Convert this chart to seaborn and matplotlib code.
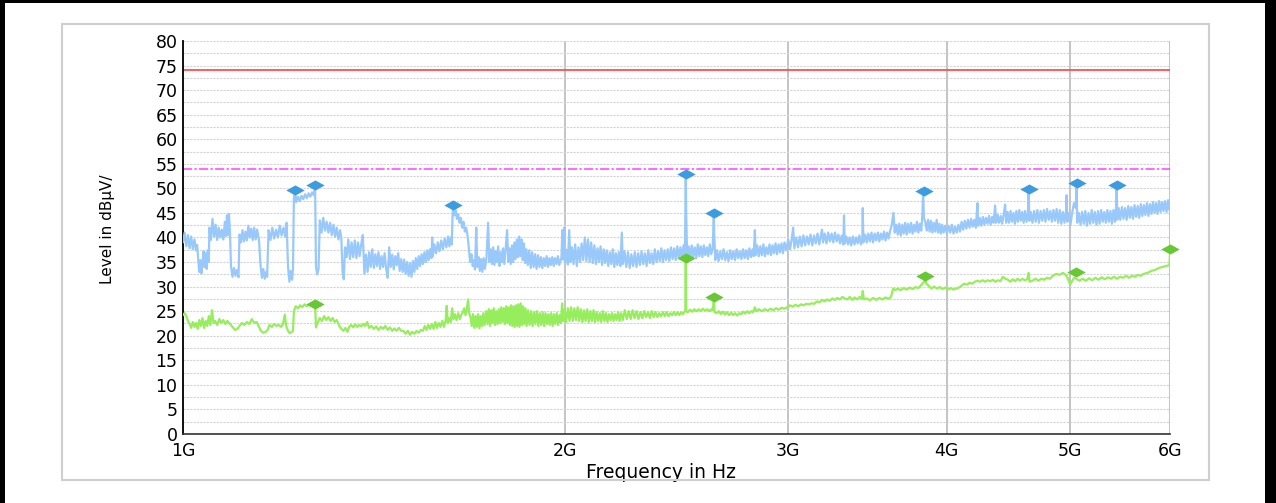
import numpy as np
import matplotlib.pyplot as plt
import seaborn as sns
from matplotlib.patches import Rectangle
from matplotlib.ticker import FixedLocator, MultipleLocator, NullLocator

# ─── Data (MHz, dBuV) ────────────────────────────────────────
# peak detector trace
peak_scan = [
    (1000, 39.0), (1003, 41.0), (1006, 38.2), (1009, 40.5), (1012, 37.8), (1015, 40.2), (1018, 37.6), (1021, 39.6),
    (1024, 37.4), (1026, 38.5), (1028, 35.5), (1030, 33.0), (1032, 35.4), (1034, 32.7), (1036, 34.5), (1038, 37.2),
    (1040, 34.0), (1042, 36.8), (1044, 33.6), (1046, 37.4), (1048, 35.0), (1049, 42.0), (1052, 39.5), (1055, 43.8),
    (1058, 40.2), (1061, 42.6), (1064, 39.5), (1067, 42.0), (1070, 40.0), (1073, 41.6), (1076, 39.6), (1079, 43.2),
    (1081, 40.3), (1083, 44.5), (1085, 40.5), (1087, 44.8), (1089, 41.2), (1091, 34.2), (1094, 32.0), (1097, 33.8),
    (1100, 32.2), (1103, 33.4), (1106, 31.9), (1108, 40.6), (1111, 39.0), (1114, 41.5), (1117, 39.2), (1120, 41.2),
    (1123, 39.4), (1126, 42.4), (1129, 40.0), (1132, 41.8), (1135, 39.5), (1138, 42.0), (1141, 39.6), (1144, 41.6),
    (1148, 39.4), (1151, 34.5), (1154, 31.8), (1157, 33.6), (1160, 31.6), (1163, 33.0), (1165, 32.0), (1168, 41.5),
    (1172, 39.5), (1176, 42.0), (1180, 39.8), (1184, 41.6), (1188, 40.0), (1192, 42.4), (1196, 40.4), (1200, 42.0),
    (1204, 40.2), (1207, 43.0), (1210, 34.2), (1213, 31.0), (1216, 33.2), (1219, 31.4), (1221, 33.5), (1223, 48.0),
    (1225, 49.6), (1228, 47.2), (1232, 48.3), (1236, 47.4), (1240, 48.5), (1244, 47.8), (1248, 48.8), (1252, 48.0),
    (1256, 49.0), (1260, 48.3), (1264, 49.2), (1268, 48.6), (1271, 50.7), (1273, 34.0), (1276, 32.5), (1279, 33.6),
    (1282, 43.5), (1286, 41.0), (1290, 44.0), (1294, 41.4), (1298, 43.2), (1302, 41.0), (1306, 43.0), (1310, 40.5),
    (1314, 42.6), (1318, 40.2), (1322, 42.0), (1326, 39.6), (1330, 41.5), (1333, 39.8), (1336, 33.0), (1339, 31.5),
    (1342, 38.0), (1346, 36.0), (1350, 39.6), (1354, 35.6), (1358, 39.0), (1362, 36.0), (1366, 39.4), (1370, 35.8),
    (1374, 39.0), (1378, 36.2), (1382, 38.6), (1386, 40.5), (1390, 32.6), (1394, 36.5), (1398, 33.0), (1402, 37.0),
    (1406, 34.0), (1410, 37.6), (1414, 33.8), (1418, 36.6), (1422, 34.2), (1426, 37.0), (1430, 33.6), (1434, 36.2),
    (1438, 34.0), (1442, 36.8), (1446, 33.6), (1450, 31.8), (1454, 38.0), (1458, 34.0), (1462, 36.5), (1466, 33.5),
    (1470, 36.2), (1474, 34.4), (1478, 36.8), (1482, 33.2), (1486, 35.6), (1490, 33.0), (1494, 35.5), (1498, 32.6),
    (1502, 35.0), (1506, 32.2), (1510, 34.8), (1514, 32.0), (1518, 35.2), (1522, 33.0), (1526, 35.8), (1530, 33.6),
    (1534, 36.2), (1538, 34.2), (1542, 36.6), (1546, 34.6), (1550, 37.0), (1554, 35.0), (1558, 37.4), (1562, 35.4),
    (1566, 37.6), (1570, 35.8), (1572, 40.0), (1574, 36.2), (1578, 38.6), (1583, 36.8), (1588, 39.0), (1593, 37.2),
    (1598, 39.4), (1603, 37.6), (1608, 39.8), (1613, 38.0), (1618, 40.2), (1622, 38.2), (1626, 40.0), (1629, 38.6),
    (1631, 44.0), (1633, 46.7), (1636, 44.5), (1640, 45.6), (1644, 43.8), (1648, 44.8), (1652, 43.0), (1656, 44.0),
    (1660, 42.0), (1664, 43.2), (1668, 41.2), (1672, 42.0), (1676, 40.5), (1680, 38.0), (1684, 35.0), (1688, 36.6),
    (1692, 34.2), (1696, 35.4), (1699, 33.5), (1703, 42.0), (1706, 34.0), (1710, 36.0), (1714, 33.2), (1718, 35.6),
    (1722, 33.0), (1726, 35.8), (1730, 33.6), (1735, 36.0), (1740, 43.0), (1744, 35.0), (1748, 37.6), (1752, 34.6),
    (1756, 38.0), (1760, 34.4), (1764, 37.2), (1768, 35.0), (1772, 38.2), (1776, 34.2), (1780, 37.0), (1784, 35.0),
    (1788, 37.8), (1792, 34.6), (1796, 37.4), (1801, 41.5), (1805, 35.0), (1809, 37.8), (1813, 34.6), (1817, 38.4),
    (1821, 35.0), (1825, 39.0), (1829, 35.6), (1833, 39.6), (1837, 36.0), (1841, 40.2), (1845, 36.2), (1849, 39.6),
    (1853, 35.4), (1857, 38.8), (1861, 34.8), (1865, 37.6), (1870, 34.4), (1875, 37.4), (1880, 33.8), (1885, 37.0),
    (1890, 34.0), (1895, 36.6), (1900, 33.6), (1905, 36.4), (1910, 34.0), (1915, 36.0), (1920, 33.8), (1925, 35.8),
    (1930, 34.2), (1935, 36.2), (1940, 34.0), (1945, 35.8), (1950, 34.4), (1955, 36.0), (1960, 34.2), (1965, 35.8),
    (1970, 34.6), (1975, 36.2), (1980, 34.4), (1988, 36.0), (1991, 41.5), (1994, 35.5), (1998, 42.0), (2001, 35.0),
    (2006, 37.5), (2011, 34.5), (2016, 41.5), (2020, 35.0), (2026, 38.0), (2032, 34.6), (2038, 38.6), (2044, 34.2),
    (2050, 38.0), (2056, 35.0), (2062, 38.8), (2068, 35.4), (2074, 40.0), (2080, 35.2), (2086, 39.6), (2092, 35.0),
    (2098, 39.0), (2104, 34.8), (2110, 38.4), (2116, 34.6), (2122, 37.8), (2128, 35.0), (2134, 38.2), (2140, 34.4),
    (2146, 37.6), (2152, 34.8), (2158, 37.4), (2164, 34.2), (2170, 37.0), (2176, 34.6), (2182, 37.6), (2188, 34.0),
    (2194, 36.8), (2200, 34.4), (2206, 37.0), (2212, 34.2), (2218, 41.0), (2222, 34.6), (2229, 37.2), (2236, 34.0),
    (2243, 37.0), (2250, 33.8), (2257, 36.6), (2264, 34.2), (2271, 37.0), (2278, 34.0), (2285, 36.8), (2292, 34.4),
    (2299, 37.2), (2306, 34.6), (2313, 36.8), (2320, 34.2), (2327, 37.4), (2334, 34.8), (2341, 36.8), (2348, 34.6),
    (2355, 37.6), (2362, 35.0), (2369, 37.2), (2376, 35.2), (2383, 37.8), (2390, 35.0), (2397, 37.4), (2404, 35.4),
    (2411, 37.6), (2418, 35.2), (2425, 38.0), (2432, 35.6), (2439, 37.8), (2446, 35.4), (2453, 38.2), (2460, 35.8),
    (2467, 38.0), (2474, 35.6), (2481, 38.4), (2487, 35.8), (2489, 45.0), (2491, 52.9), (2493, 45.0), (2497, 36.4),
    (2504, 38.2), (2511, 35.8), (2518, 38.4), (2525, 36.0), (2532, 38.0), (2539, 35.8), (2546, 38.6), (2553, 36.2),
    (2560, 38.2), (2567, 36.0), (2574, 38.4), (2581, 36.4), (2588, 38.0), (2595, 36.2), (2602, 38.6), (2609, 36.6),
    (2616, 37.8), (2619, 42.0), (2621, 44.9), (2623, 41.0), (2628, 35.4), (2636, 37.4), (2644, 35.2), (2652, 37.2),
    (2660, 35.6), (2668, 37.6), (2676, 35.4), (2684, 37.0), (2692, 35.2), (2700, 37.4), (2708, 35.6), (2716, 37.2),
    (2724, 35.4), (2732, 37.6), (2740, 35.8), (2748, 37.2), (2756, 35.6), (2764, 37.6), (2772, 35.8), (2780, 37.4),
    (2788, 35.6), (2796, 37.8), (2804, 36.0), (2812, 37.6), (2818, 36.2), (2824, 41.5), (2828, 36.4), (2836, 38.4),
    (2844, 36.2), (2852, 38.2), (2860, 36.4), (2868, 38.6), (2876, 36.2), (2884, 38.0), (2892, 36.6), (2900, 38.6),
    (2908, 36.4), (2916, 38.4), (2924, 36.8), (2932, 38.8), (2940, 36.6), (2948, 38.6), (2956, 37.0), (2964, 38.8),
    (2972, 36.8), (2980, 39.0), (2990, 37.4), (3000, 39.6), (3010, 37.6), (3020, 39.8), (3027, 42.0), (3034, 37.8),
    (3044, 40.0), (3054, 38.0), (3064, 40.2), (3074, 38.2), (3084, 40.4), (3094, 38.4), (3104, 40.2), (3114, 38.6),
    (3124, 40.6), (3134, 38.4), (3144, 40.4), (3154, 38.8), (3164, 40.8), (3174, 38.6), (3184, 40.6), (3190, 41.6),
    (3196, 39.0), (3206, 40.8), (3216, 38.8), (3226, 41.0), (3236, 39.2), (3246, 40.8), (3256, 39.0), (3266, 41.0),
    (3276, 39.2), (3286, 40.6), (3296, 38.8), (3306, 40.4), (3316, 38.6), (3320, 44.5), (3324, 38.8), (3334, 40.2),
    (3344, 38.6), (3354, 40.0), (3364, 38.4), (3374, 40.2), (3384, 38.6), (3394, 40.0), (3404, 38.8), (3414, 40.4),
    (3424, 38.6), (3432, 39.8), (3435, 46.0), (3439, 39.0), (3450, 40.6), (3460, 39.0), (3470, 40.8), (3480, 39.2),
    (3490, 41.0), (3500, 39.0), (3510, 40.8), (3520, 39.4), (3530, 41.0), (3540, 39.2), (3550, 40.8), (3560, 39.6),
    (3570, 41.2), (3580, 39.4), (3590, 41.0), (3600, 39.8), (3610, 41.4), (3620, 42.5), (3632, 45.0), (3640, 41.0),
    (3650, 42.6), (3660, 40.6), (3670, 42.8), (3680, 40.4), (3690, 42.6), (3700, 40.8), (3710, 43.0), (3720, 40.6),
    (3730, 42.8), (3740, 41.0), (3750, 43.0), (3760, 40.8), (3770, 42.6), (3780, 41.2), (3790, 43.2), (3800, 41.0),
    (3810, 42.8), (3820, 41.4), (3828, 45.0), (3833, 49.5), (3838, 44.0), (3848, 43.2), (3858, 41.4), (3868, 43.6),
    (3878, 41.2), (3888, 43.4), (3898, 41.0), (3908, 43.0), (3918, 41.2), (3928, 43.6), (3938, 41.0), (3948, 42.8),
    (3958, 40.8), (3968, 42.6), (3978, 41.0), (3990, 42.4), (4002, 40.8), (4014, 42.4), (4026, 41.0), (4038, 42.6),
    (4050, 40.8), (4062, 42.2), (4074, 41.0), (4086, 42.6), (4098, 41.2), (4110, 43.2), (4122, 41.6), (4134, 43.4),
    (4146, 41.8), (4158, 43.6), (4170, 42.0), (4182, 43.8), (4194, 42.2), (4206, 43.6), (4218, 42.0), (4230, 47.0),
    (4236, 42.4), (4248, 44.0), (4260, 42.4), (4272, 44.2), (4284, 42.6), (4296, 44.0), (4308, 42.8), (4320, 44.4),
    (4332, 42.6), (4344, 44.2), (4356, 43.0), (4368, 46.5), (4376, 43.0), (4388, 44.6), (4400, 43.0), (4412, 44.4),
    (4424, 42.8), (4436, 44.6), (4448, 46.7), (4456, 43.0), (4468, 45.2), (4480, 43.0), (4492, 45.4), (4504, 43.2),
    (4516, 45.0), (4528, 42.8), (4540, 45.4), (4552, 43.2), (4564, 45.6), (4576, 43.4), (4588, 45.2), (4600, 43.0),
    (4612, 45.4), (4624, 43.2), (4636, 45.0), (4642, 49.8), (4648, 43.4), (4660, 45.2), (4674, 43.0), (4688, 45.4),
    (4702, 43.2), (4716, 45.6), (4730, 43.0), (4744, 45.4), (4758, 43.4), (4772, 45.6), (4786, 43.2), (4800, 45.8),
    (4814, 43.6), (4828, 45.4), (4842, 43.2), (4856, 45.6), (4870, 43.4), (4884, 45.8), (4898, 43.0), (4912, 45.6),
    (4926, 42.8), (4940, 45.2), (4954, 43.0), (4968, 45.4), (4973, 48.6), (4980, 43.2), (4994, 45.0), (5008, 42.6),
    (5022, 44.8), (5040, 47.0), (5058, 46.0), (5064, 51.1), (5070, 43.0), (5085, 45.0), (5100, 42.6), (5115, 45.2),
    (5130, 42.8), (5145, 45.4), (5160, 42.4), (5175, 45.0), (5190, 42.8), (5205, 45.6), (5220, 43.0), (5235, 45.2),
    (5250, 42.6), (5265, 45.4), (5280, 42.8), (5295, 45.6), (5310, 43.2), (5325, 45.2), (5340, 43.0), (5355, 45.6),
    (5370, 43.2), (5385, 45.4), (5400, 42.8), (5415, 45.6), (5430, 43.2), (5440, 46.0), (5446, 50.6), (5452, 43.6),
    (5466, 46.0), (5482, 43.6), (5498, 46.2), (5514, 43.8), (5530, 46.0), (5546, 43.6), (5562, 46.4), (5578, 44.0),
    (5594, 46.2), (5610, 43.8), (5626, 46.6), (5642, 44.2), (5658, 46.4), (5674, 44.0), (5690, 46.8), (5706, 44.4),
    (5722, 46.6), (5738, 44.6), (5754, 47.0), (5770, 44.4), (5786, 46.8), (5802, 44.8), (5818, 47.2), (5834, 45.0),
    (5850, 47.0), (5866, 44.8), (5882, 47.4), (5898, 45.2), (5914, 47.2), (5930, 45.4), (5946, 47.4), (5962, 45.2),
    (5978, 47.6), (5994, 45.6), (6000, 46.0),
]

# average detector trace
avg_scan = [
    (1000, 24.2), (1003, 24.6), (1006, 24.0), (1009, 23.0), (1012, 22.4), (1015, 21.6), (1018, 22.8), (1021, 21.8),
    (1024, 22.6), (1027, 21.4), (1030, 23.2), (1033, 22.0), (1036, 23.6), (1039, 21.6), (1042, 23.0), (1045, 22.0),
    (1048, 24.0), (1051, 22.2), (1054, 25.2), (1057, 22.6), (1060, 23.0), (1064, 22.2), (1068, 23.4), (1072, 22.6),
    (1076, 23.2), (1080, 22.4), (1084, 23.0), (1089, 22.4), (1094, 21.8), (1099, 21.2), (1104, 21.4), (1108, 22.0),
    (1113, 22.6), (1118, 22.2), (1123, 22.8), (1128, 22.4), (1133, 23.4), (1138, 22.6), (1143, 22.8), (1148, 21.8),
    (1152, 21.0), (1157, 20.6), (1162, 20.8), (1166, 21.2), (1170, 22.2), (1175, 21.8), (1180, 22.4), (1185, 22.0),
    (1190, 22.2), (1195, 21.8), (1199, 22.4), (1203, 24.3), (1206, 22.0), (1210, 21.0), (1214, 20.5), (1218, 20.8),
    (1221, 21.0), (1223, 25.0), (1227, 26.0), (1232, 25.6), (1237, 26.2), (1242, 25.8), (1247, 26.4), (1252, 26.0),
    (1257, 26.3), (1262, 26.1), (1267, 26.5), (1271, 26.3), (1273, 21.7), (1276, 22.5), (1282, 23.6), (1287, 23.0),
    (1292, 24.0), (1297, 23.2), (1302, 23.8), (1307, 23.0), (1312, 23.6), (1317, 22.8), (1322, 23.2), (1328, 22.0),
    (1333, 21.4), (1338, 21.0), (1343, 21.6), (1348, 20.8), (1352, 21.8), (1357, 22.2), (1362, 21.7), (1367, 22.3),
    (1372, 21.8), (1377, 22.2), (1382, 21.9), (1387, 22.4), (1392, 22.0), (1397, 22.8), (1402, 21.6), (1408, 22.0),
    (1414, 21.4), (1420, 21.9), (1426, 21.2), (1432, 21.8), (1438, 21.4), (1444, 22.0), (1450, 21.2), (1456, 21.7),
    (1462, 21.0), (1468, 21.5), (1474, 21.0), (1480, 21.6), (1486, 21.0), (1492, 21.0), (1498, 20.4), (1504, 21.0),
    (1510, 20.2), (1516, 20.8), (1522, 20.4), (1528, 21.0), (1534, 20.6), (1540, 21.2), (1546, 21.0), (1551, 22.0),
    (1556, 21.2), (1561, 22.2), (1566, 21.4), (1571, 22.4), (1576, 21.4), (1581, 22.8), (1586, 21.6), (1591, 22.6),
    (1596, 21.8), (1601, 23.0), (1606, 21.8), (1611, 23.2), (1614, 26.1), (1617, 22.6), (1621, 23.6), (1626, 22.8),
    (1630, 25.6), (1634, 23.4), (1638, 24.4), (1643, 23.2), (1648, 24.6), (1653, 23.4), (1658, 24.4), (1662, 24.8),
    (1666, 25.6), (1670, 24.2), (1674, 25.4), (1678, 27.4), (1681, 24.6), (1685, 23.8), (1689, 22.0), (1693, 24.4),
    (1697, 21.6), (1701, 24.0), (1705, 21.8), (1709, 24.4), (1713, 21.5), (1717, 24.0), (1721, 22.0), (1725, 24.6),
    (1729, 22.2), (1734, 25.0), (1738, 22.4), (1742, 25.4), (1746, 22.0), (1750, 25.2), (1754, 22.6), (1758, 25.6),
    (1762, 22.2), (1766, 25.0), (1770, 22.4), (1774, 25.4), (1778, 22.6), (1782, 25.8), (1786, 22.8), (1790, 25.6),
    (1794, 22.4), (1798, 26.0), (1802, 22.6), (1806, 25.8), (1810, 22.2), (1814, 26.2), (1818, 22.0), (1822, 26.0),
    (1826, 21.8), (1830, 26.2), (1834, 22.0), (1838, 26.4), (1842, 21.8), (1846, 26.6), (1850, 22.2), (1854, 26.0),
    (1858, 22.4), (1862, 25.6), (1866, 22.0), (1871, 25.2), (1876, 22.2), (1881, 25.0), (1886, 22.0), (1891, 24.8),
    (1896, 22.4), (1901, 25.0), (1906, 22.0), (1911, 24.6), (1916, 22.2), (1921, 24.8), (1926, 22.0), (1931, 24.6),
    (1936, 22.4), (1941, 24.4), (1946, 22.2), (1951, 24.6), (1956, 22.0), (1961, 24.4), (1966, 22.4), (1971, 24.6),
    (1976, 22.2), (1981, 24.2), (1986, 22.6), (1990, 26.6), (1994, 23.0), (1999, 25.4), (2005, 22.8), (2011, 25.6),
    (2017, 23.0), (2023, 25.8), (2029, 23.0), (2035, 25.6), (2041, 23.2), (2047, 25.8), (2053, 23.0), (2059, 25.4),
    (2065, 22.8), (2071, 25.2), (2077, 23.0), (2083, 25.4), (2089, 22.8), (2095, 25.0), (2101, 23.0), (2107, 25.2),
    (2113, 22.8), (2119, 24.8), (2125, 23.0), (2131, 24.6), (2137, 22.8), (2143, 25.0), (2149, 23.0), (2155, 24.6),
    (2161, 22.8), (2167, 24.4), (2173, 23.2), (2179, 24.6), (2185, 23.0), (2191, 24.4), (2197, 23.2), (2203, 24.8),
    (2209, 23.0), (2215, 24.6), (2222, 23.2), (2230, 25.2), (2238, 23.4), (2246, 25.0), (2254, 23.4), (2262, 25.2),
    (2270, 23.6), (2278, 25.0), (2286, 23.4), (2294, 24.8), (2302, 23.6), (2310, 25.0), (2318, 23.8), (2326, 24.8),
    (2334, 23.6), (2342, 25.0), (2350, 23.8), (2358, 24.8), (2366, 23.8), (2374, 24.6), (2382, 24.0), (2390, 24.8),
    (2398, 24.0), (2406, 24.8), (2414, 24.0), (2422, 24.6), (2430, 24.2), (2438, 24.8), (2446, 24.2), (2454, 24.8),
    (2462, 24.2), (2470, 24.8), (2478, 24.4), (2486, 24.9), (2489, 25.0), (2491, 35.9), (2493, 25.0), (2500, 24.8),
    (2510, 25.3), (2520, 24.9), (2530, 25.4), (2540, 25.0), (2550, 25.4), (2560, 25.0), (2570, 25.5), (2580, 25.1),
    (2590, 25.4), (2600, 25.0), (2610, 25.4), (2617, 25.2), (2621, 27.9), (2625, 24.8), (2635, 24.6), (2645, 25.0),
    (2655, 24.4), (2665, 24.9), (2675, 24.3), (2685, 24.8), (2695, 24.2), (2705, 24.7), (2715, 24.2), (2725, 24.6),
    (2735, 24.1), (2745, 24.6), (2755, 24.4), (2765, 24.9), (2775, 24.5), (2785, 25.0), (2795, 24.6), (2805, 25.0),
    (2815, 24.8), (2824, 25.8), (2832, 25.0), (2845, 25.4), (2860, 25.0), (2875, 25.4), (2890, 25.1), (2905, 25.5),
    (2920, 25.2), (2935, 25.6), (2950, 25.3), (2965, 25.7), (2980, 25.5), (2995, 25.8), (3010, 26.2), (3025, 25.9),
    (3040, 26.3), (3055, 26.0), (3070, 26.4), (3085, 26.2), (3100, 26.5), (3115, 26.4), (3130, 26.6), (3145, 26.5),
    (3160, 27.0), (3175, 26.8), (3190, 27.3), (3205, 27.0), (3220, 27.4), (3235, 27.1), (3250, 27.6), (3265, 27.3),
    (3280, 27.7), (3295, 27.4), (3310, 27.9), (3325, 27.6), (3340, 27.4), (3355, 27.9), (3370, 27.3), (3385, 27.8),
    (3400, 27.4), (3415, 27.9), (3428, 27.5), (3435, 29.1), (3442, 27.4), (3460, 27.6), (3480, 27.2), (3500, 27.7),
    (3520, 27.3), (3540, 27.7), (3560, 27.4), (3580, 27.8), (3600, 27.5), (3615, 27.9), (3630, 29.6), (3645, 29.3),
    (3660, 29.6), (3680, 29.3), (3700, 29.7), (3720, 29.4), (3740, 29.8), (3760, 29.5), (3780, 29.9), (3800, 29.7),
    (3815, 30.2), (3828, 30.6), (3840, 31.0), (3847, 32.2), (3855, 30.6), (3870, 30.2), (3890, 29.6), (3910, 30.0),
    (3930, 29.6), (3950, 29.9), (3970, 29.5), (3990, 29.8), (4010, 29.4), (4030, 29.7), (4050, 29.4), (4070, 29.6),
    (4090, 29.8), (4110, 30.2), (4130, 30.6), (4150, 30.4), (4170, 30.8), (4190, 30.6), (4210, 31.0), (4230, 31.2),
    (4250, 31.0), (4270, 31.3), (4290, 31.0), (4310, 31.3), (4330, 31.1), (4350, 31.4), (4370, 31.0), (4390, 31.3),
    (4410, 31.1), (4430, 32.0), (4450, 31.6), (4470, 31.4), (4490, 31.0), (4510, 31.5), (4530, 31.1), (4550, 31.6),
    (4570, 31.2), (4590, 31.6), (4610, 31.3), (4630, 31.5), (4642, 32.8), (4650, 31.0), (4675, 31.2), (4700, 31.6),
    (4725, 31.2), (4750, 31.6), (4775, 31.4), (4800, 31.8), (4825, 31.6), (4850, 32.2), (4880, 32.6), (4910, 32.4),
    (4940, 32.8), (4965, 32.4), (4985, 31.6), (5005, 30.4), (5020, 31.0), (5040, 31.8), (5060, 31.6), (5090, 31.2),
    (5120, 31.6), (5150, 31.2), (5180, 31.7), (5210, 31.3), (5240, 31.8), (5270, 31.4), (5300, 31.9), (5330, 31.5),
    (5360, 31.9), (5390, 31.6), (5420, 32.0), (5450, 31.6), (5480, 32.0), (5510, 31.8), (5540, 32.2), (5570, 31.8),
    (5600, 32.2), (5630, 32.0), (5660, 32.4), (5690, 32.2), (5720, 32.6), (5760, 32.8), (5800, 33.2), (5840, 33.4),
    (5880, 33.8), (5920, 34.0), (5960, 34.2), (5995, 34.4), (6000, 37.5),
]

# final measurement markers
peak_marker_mhz = [1225, 1271, 1633, 2491, 2621, 3840, 4642, 5064, 5446]
peak_marker_dbuv = [49.6, 50.7, 46.7, 52.9, 44.9, 49.5, 49.8, 51.1, 50.6]
avg_marker_mhz = [1271, 2491, 2621, 3847, 5055, 6000]
avg_marker_dbuv = [26.4, 35.9, 27.9, 32.2, 33.0, 37.6]

limit_peak = 74.0
limit_avg = 54.0

freq_ticks = [1000, 2000, 3000, 4000, 5000, 6000]
freq_labels = ['1G', '2G', '3G', '4G', '5G', '6G']

# ─── Style ───────────────────────────────────────────────────
W, H = 1276, 503
PEAK_COLOR = '#99c9fa'
AVG_COLOR = '#96ee5c'
PEAK_MARK = '#3d9be0'
AVG_MARK = '#66c832'
DIAMOND = [(-1, 0), (0, 0.55), (1, 0), (0, -0.55), (-1, 0)]

sns.set_style('white')
plt.rcParams['font.family'] = ['DejaVu Sans']
plt.rcParams['text.color'] = 'black'
plt.rcParams['axes.labelcolor'] = 'black'

fig = plt.figure(figsize=(W / 100, H / 100), dpi=100)
fig.patch.set_facecolor('white')

# outer black frame and grey panel box
fig.add_artist(Rectangle((0, 0), 5 / W, 1, transform=fig.transFigure, color='black', lw=0))
fig.add_artist(Rectangle((0, 1 - 3 / H), 1, 3 / H, transform=fig.transFigure, color='black', lw=0))
fig.add_artist(Rectangle((1265 / W, 0), 11 / W, 1, transform=fig.transFigure, color='black', lw=0))
fig.add_artist(Rectangle((62 / W, 1 - 480 / H), (1209 - 62) / W, (480 - 24) / H,
                         transform=fig.transFigure, fill=False, edgecolor='#cfcfcf', lw=1.5))

ax = fig.add_axes([183 / W, 1 - 434 / H, 987 / W, 393 / H])

pk = np.array(peak_scan)
av = np.array(avg_scan)

sns.lineplot(x=pk[:, 0], y=pk[:, 1], ax=ax, color=PEAK_COLOR, lw=1.6,
             estimator=None, sort=False, zorder=3)
sns.lineplot(x=av[:, 0], y=av[:, 1], ax=ax, color=AVG_COLOR, lw=1.6,
             estimator=None, sort=False, zorder=4)

ax.axhline(limit_peak, color='#ff5050', lw=1.3, zorder=2)
ax.axhline(limit_avg, color='#ff40ff', lw=1.1, ls=(0, (6, 1.5, 1.5, 1.5)), zorder=2)

sns.scatterplot(x=peak_marker_mhz, y=peak_marker_dbuv, ax=ax, marker=DIAMOND, s=175,
                color=PEAK_MARK, linewidth=0, zorder=5, clip_on=False)
sns.scatterplot(x=avg_marker_mhz, y=avg_marker_dbuv, ax=ax, marker=DIAMOND, s=175,
                color=AVG_MARK, linewidth=0, zorder=6, clip_on=False)

# ── Axes ─────────────────────────────────────────────────────
ax.set_xscale('log')
ax.set_xlim(1000, 6000)
ax.set_ylim(0, 80)
ax.xaxis.set_major_locator(FixedLocator(freq_ticks))
ax.xaxis.set_minor_locator(NullLocator())
ax.set_xticklabels(freq_labels)
ax.yaxis.set_major_locator(MultipleLocator(5))
ax.yaxis.set_minor_locator(MultipleLocator(2.5))

ax.grid(which='both', axis='y', color='#d4d4d4', ls=(0, (2, 1)), lw=0.8, zorder=0)
ax.grid(which='major', axis='x', color='#c4c4c4', ls='-', lw=1.4, zorder=0)
ax.set_axisbelow(True)

for side in ['top', 'right']:
    ax.spines[side].set_visible(False)
ax.spines['left'].set_color('black')
ax.spines['left'].set_linewidth(1.3)
ax.spines['bottom'].set_color('#333333')
ax.spines['bottom'].set_linewidth(1.2)

ax.tick_params(axis='y', which='major', direction='inout', length=6, width=1.3,
               color='black', labelsize=12.5, labelcolor='black', pad=1)
ax.tick_params(axis='y', which='minor', direction='inout', length=6, width=1.3, color='#555555')
ax.tick_params(axis='x', which='major', direction='inout', length=6, width=1.2,
               color='#333333', labelsize=12.5, labelcolor='black', pad=3)

ax.set_xlabel('Frequency in Hz', fontsize=13.5, color='black')
ax.xaxis.set_label_coords(0.484, -0.075)
ax.set_ylabel('Level in dBµV/', fontsize=11, color='black')
ax.yaxis.set_label_coords(-0.069, 0.52)

plt.savefig('out.png', dpi=100)
plt.close()
